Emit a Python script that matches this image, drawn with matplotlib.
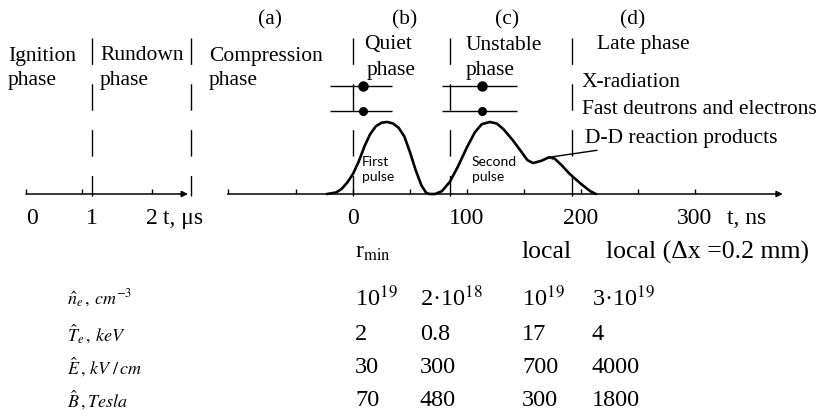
#!/usr/bin/env python3
"""
Phases of the plasma focus discharge: time axes, X-ray pulses and a table of
plasma parameters for each phase.
"""

import matplotlib
matplotlib.use('Agg')
import matplotlib.pyplot as plt

# --- data ------------------------------------------------------------------
# slow time axis (microseconds)
us_boundaries = [1.0, 2.65]
us_tick_marks = [-0.1, 0.83, 2.0]
us_tick_labels = [0, 1, 2]

# fast time axis (nanoseconds)
ns_boundaries = [0, 85, 192]
ns_tick_marks = [-110, -50, 0, 50, 100, 150, 200, 250, 300]
ns_tick_labels = [0, 100, 200, 300]

# X-ray signal (two pulses), amplitude relative to first peak
pulse_t = [-23, -15, -10, -5, 0, 5, 10, 15, 20, 25, 30, 35, 40, 45, 50, 55,
           60, 64, 67, 72, 78, 85, 92, 100, 107, 113, 120, 126, 132, 140, 148,
           153, 158, 165, 172, 177, 183, 190, 200, 208, 213]
pulse_amp = [0.0, 0.02, 0.07, 0.16, 0.28, 0.45, 0.66, 0.83, 0.94, 0.99, 1.0,
             0.98, 0.92, 0.8, 0.58, 0.33, 0.12, 0.02, 0.0, 0.0, 0.04, 0.17,
             0.38, 0.65, 0.86, 0.97, 1.0, 0.98, 0.9, 0.75, 0.58, 0.47, 0.43,
             0.46, 0.51, 0.49, 0.4, 0.28, 0.14, 0.04, 0.0]

# measurement windows (ns) in quiet and unstable phase
window_center = [9, 113]
window_lo = [-20, 78]
window_hi = [34, 144]

# table
row_labels = [r'$\hat{n}_e\,,\,cm^{-3}$', r'$\hat{T}_e\,,\,keV$',
              r'$\hat{E}\,,\,kV\ /\,cm$', r'$\hat{B}\,,Tesla$']
col_heads = [r'r$_{\rm min}$', '', 'local', 'local (\u0394x =0.2 mm)']
n_e = ['10$^{19}$', '2\u00b710$^{18}$', '10$^{19}$', '3\u00b710$^{19}$']
T_e = ['2', '0.8', '17', '4']
E_field = ['30', '300', '700', '4000']
B_field = ['70', '480', '300', '1800']

# --- layout helpers ---------------------------------------------------------
W, H = 824, 419
BASE_PY = 194      # pixel row of the time axes
AMP_PX = 72        # pixels per unit amplitude
TOP_PY, BOT_PY = 20, 230

plt.rcParams['font.family'] = ['Liberation Serif', 'DejaVu Serif']
plt.rcParams['mathtext.fontset'] = 'stix'

fig = plt.figure(figsize=(W / 100, H / 100), dpi=100)


def fx(px):
    return px / W


def fy(py):
    return 1 - py / H


def amp(py):
    return (BASE_PY - py) / AMP_PX


def add_panel(px0, px1, origin_px, px_per_unit):
    ax = fig.add_axes([fx(px0), fy(BOT_PY), (px1 - px0) / W, (BOT_PY - TOP_PY) / H])
    ax.set_xlim((px0 - origin_px) / px_per_unit, (px1 - origin_px) / px_per_unit)
    ax.set_ylim(amp(BOT_PY), amp(TOP_PY))
    ax.axis('off')
    return ax


def time_axis(ax, x0, x1, marks):
    ax.annotate('', xy=(x1, 0), xytext=(x0, 0),
                arrowprops=dict(arrowstyle='-|>', lw=1.1, color='k',
                                mutation_scale=9, shrinkA=0, shrinkB=0))
    ax.vlines(marks, 0, amp(BASE_PY - 5), color='k', lw=1.0)


def boundaries(ax, xs):
    for x in xs:
        ax.plot([x, x], [amp(38), amp(196)], color='k', lw=1.0,
                linestyle=(0, (19, 14)))


ax_us = add_panel(10, 205, 32, 60)
ax_ns = add_panel(215, 810, 353, 1.14)

# slow axis
time_axis(ax_us, -0.1, 2.6, us_tick_marks)
boundaries(ax_us, us_boundaries)
for v in us_tick_labels:
    ax_us.text(v, amp(218), str(v), ha='center', va='center', fontsize=17)
fig.text(fx(163), fy(218), 't, \u03bcs', ha='left', va='center', fontsize=17)

# fast axis
time_axis(ax_ns, -110, 377, ns_tick_marks)
boundaries(ax_ns, ns_boundaries)
for v in ns_tick_labels:
    ax_ns.text(v, amp(218), str(v), ha='center', va='center', fontsize=17)
fig.text(fx(727), fy(218), 't, ns', ha='left', va='center', fontsize=17)

# signal
ax_ns.plot(pulse_t, pulse_amp, color='k', lw=1.9, solid_capstyle='round')

# measurement windows
for level, ms in [(amp(86), 6.5), (amp(111), 5.5)]:
    ax_ns.hlines([level] * len(window_lo), window_lo, window_hi, color='k', lw=1.0)
    ax_ns.plot(window_center, [level] * len(window_center), 'o', color='k',
               markersize=ms)

# leader line to the hump of the second pulse
hump = pulse_amp.index(max(pulse_amp[33:37]), 33)
ax_ns.annotate('D-D reaction products', xy=(pulse_t[hump], pulse_amp[hump]),
               xytext=(fx(585), fy(138)), textcoords='figure fraction',
               ha='left', va='center', fontsize=15.5,
               arrowprops=dict(arrowstyle='-', lw=1.0, color='k',
                               shrinkA=0, shrinkB=0))

# phase labels
labels = [
    (8, 56, 'Ignition'), (8, 80, 'phase'),
    (100, 56, 'Rundown'), (100, 80, 'phase'),
    (209, 56, 'Compression'), (209, 80, 'phase'),
    (364, 45, 'Quiet'), (367, 70, 'phase'),
    (466, 45, 'Unstable'), (466, 70, 'phase'),
    (597, 45, 'Late phase'),
    (582, 82, 'X-radiation'),
    (582, 110, 'Fast deutrons and electrons'),
]
for px, py, s in labels:
    fig.text(fx(px), fy(py), s, ha='left', va='center', fontsize=15.5)

for px, s in [(270, '(a)'), (405, '(b)'), (507, '(c)'), (633, '(d)')]:
    fig.text(fx(px), fy(20), s, ha='center', va='center', fontsize=15.5)

for px, s in [(362, 'First'), (472, 'Second')]:
    fig.text(fx(px), fy(162), s, ha='left', va='center', fontsize=10,
             family='Lato')
    fig.text(fx(px), fy(177), 'pulse', ha='left', va='center', fontsize=10,
             family='Lato')

# table
col_x = [355, 420, 522, 592]
head_x = [355, 420, 522, 606]
head_size = [17, 17, 18.5, 18.5]
for px, s, fs in zip(head_x, col_heads, head_size):
    if s:
        fig.text(fx(px), fy(252), s, ha='left', va='center', fontsize=fs)

row_y = [298, 334, 367, 400]
rows = [n_e, T_e, E_field, B_field]
for py, lab, vals in zip(row_y, row_labels, rows):
    fig.text(fx(67), fy(py), lab, ha='left', va='center', fontsize=13)
    for px, s in zip(col_x, vals):
        fig.text(fx(px), fy(py), s, ha='left', va='center', fontsize=17.5)

fig.savefig('out.png', dpi=100)
plt.close(fig)
